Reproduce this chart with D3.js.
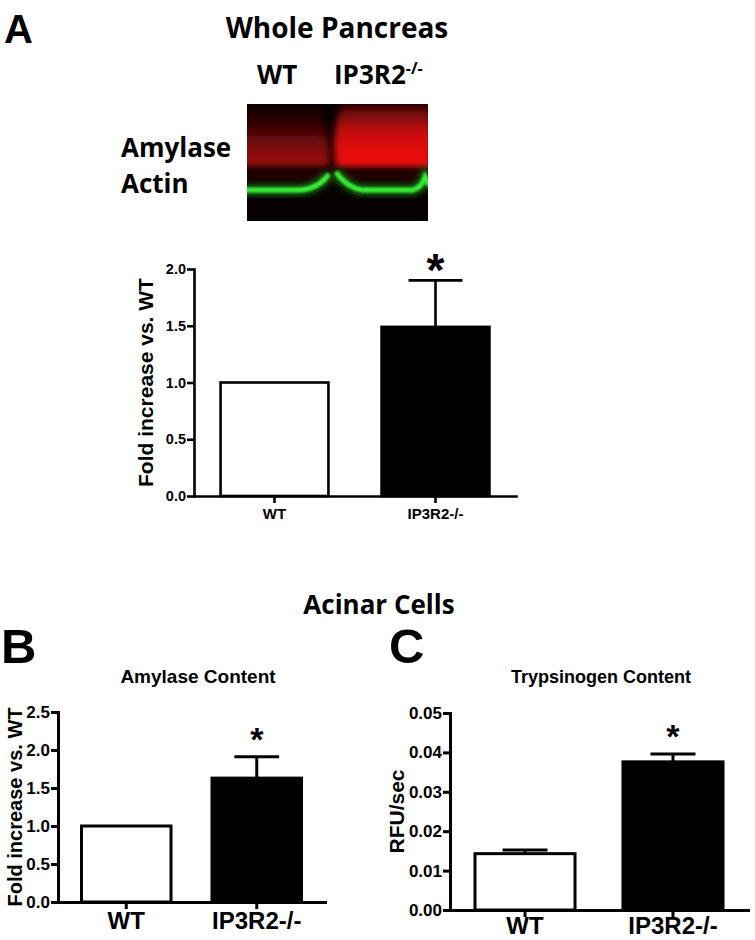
<!DOCTYPE html>
<html>
<head>
<meta charset="utf-8">
<script src="https://cdn.jsdelivr.net/npm/d3@7"></script>
<style>
  body { margin: 0; background: #fff; }
  text { font-family: "Liberation Sans", Arimo, Arial, sans-serif; font-weight: bold; fill: #000; }
  text.ppt { font-family: "Open Sans", Lato, sans-serif; font-weight: bold; }
</style>
</head>
<body>
<div id="fig"></div>
<script>
// groups shared by all three panels
const groups = ["WT", "IP3R2-/-"];

// A: whole pancreas western blot quantification
const wholeMean = [1.0, 1.49];
const wholeSem = [0, 0.41];
const wholeTicks = [0, 0.5, 1.0, 1.5, 2.0];

// B: acinar cells amylase content
const amyMean = [1.0, 1.63];
const amySem = [0, 0.28];
const amyTicks = [0, 0.5, 1.0, 1.5, 2.0, 2.5];

// C: acinar cells trypsinogen content (RFU/sec)
const trypMean = [0.0143, 0.0376];
const trypSem = [0.0009, 0.0020];
const trypTicks = [0, 0.01, 0.02, 0.03, 0.04, 0.05];

// relative band intensities on the blot (amylase, red)
const amylaseBand = [0.72, 1.0];

const width = 755, height = 940;
const svg = d3.select("#fig").append("svg")
    .attr("width", width)
    .attr("height", height);

// ---------- headings ----------
svg.append("text").attr("x", 4).attr("y", 43).style("font-size", "40px").text("A");
svg.append("text").attr("class", "ppt").attr("x", 337).attr("y", 38)
    .attr("text-anchor", "middle").style("font-size", "28px").text("Whole Pancreas");
svg.append("text").attr("class", "ppt").attr("x", 257).attr("y", 84)
    .style("font-size", "26px").text("WT");
let ko = svg.append("text").attr("class", "ppt").attr("x", 334).attr("y", 84)
    .style("font-size", "26px");
ko.append("tspan").text("IP3R2");
ko.append("tspan").attr("dy", -10).style("font-size", "16px").text("-/-");
svg.append("text").attr("class", "ppt").attr("x", 121).attr("y", 157)
    .style("font-size", "26px").text("Amylase");
svg.append("text").attr("class", "ppt").attr("x", 121).attr("y", 193)
    .style("font-size", "26px").text("Actin");

svg.append("text").attr("class", "ppt").attr("x", 379).attr("y", 614)
    .attr("text-anchor", "middle").style("font-size", "26px").text("Acinar Cells");
svg.append("text").attr("x", 1).attr("y", 663).style("font-size", "49px").text("B");
svg.append("text").attr("x", 389).attr("y", 663).style("font-size", "49px").text("C");

// ---------- blot ----------
const defs = svg.append("defs");
defs.append("filter").attr("id", "blur3").attr("x", "-20%").attr("y", "-50%")
    .attr("width", "140%").attr("height", "200%")
  .append("feGaussianBlur").attr("stdDeviation", 3.5);
defs.append("filter").attr("id", "blur1").attr("x", "-10%").attr("y", "-50%")
    .attr("width", "120%").attr("height", "200%")
  .append("feGaussianBlur").attr("stdDeviation", 1.2);
defs.append("clipPath").attr("id", "blotClip")
  .append("rect").attr("x", 247).attr("y", 104).attr("width", 181).attr("height", 117);

const blot = svg.append("g").attr("clip-path", "url(#blotClip)");
blot.append("rect").attr("x", 247).attr("y", 104).attr("width", 181).attr("height", 117)
    .attr("fill", "#080101");

const lanes = [
  {d: "M240,106 L318,106 Q328,130 329,150 L329,167 L240,167 Z"},
  {d: "M342,104 L432,104 L432,168 L336,168 L334,150 Q334,122 342,104 Z"}
];
lanes.forEach((ln, i) => {
  const k = amylaseBand[i];
  const g = defs.append("linearGradient").attr("id", "red" + i)
      .attr("x1", 0).attr("x2", 0).attr("y1", 0).attr("y2", 1);
  const stops = i === 0
    ? [[0, 20], [0.3, 70], [0.55, 140], [0.8, 200], [1, 215]]
    : [[0, 50], [0.2, 130], [0.45, 200], [0.75, 230], [1, 235]];
  stops.forEach(s => g.append("stop").attr("offset", s[0])
      .attr("stop-color", d3.rgb(s[1] * k, s[1] * 0.07 * k, s[1] * 0.06)));
  blot.append("path").attr("d", ln.d)
      .attr("fill", "url(#red" + i + ")").attr("filter", "url(#blur3)");
});
// faint red haze between bands
blot.append("rect").attr("x", 247).attr("y", 170).attr("width", 181).attr("height", 12)
    .attr("fill", "#240303").attr("filter", "url(#blur3)");

// actin (green)
const actin = [
  "M240,190 L300,190 Q318,189 329,174",
  "M336,172 Q346,187 362,190 L412,190 Q421,189 425,177 L430,186"
];
actin.forEach(dp => {
  blot.append("path").attr("d", dp).attr("fill", "none")
      .attr("stroke", "#168016").attr("stroke-width", 9).attr("filter", "url(#blur3)");
  blot.append("path").attr("d", dp).attr("fill", "none")
      .attr("stroke", "#38ee38").attr("stroke-width", 4.8).attr("filter", "url(#blur1)");
});

// ---------- bar panels ----------
function panel(o) {
  const x = d3.scaleBand().domain(groups).range([o.left, o.right])
      .paddingInner(o.pi).paddingOuter(o.po);
  const y = d3.scaleLinear().domain([0, o.ticks[o.ticks.length - 1]]).range([o.bottom, o.top]);
  const g = svg.append("g");

  const bw = x.bandwidth();
  // error bars (upper only)
  groups.forEach((grp, i) => {
    if (o.sem[i] <= 0) return;
    const cx = x(grp) + bw / 2;
    g.append("line").attr("x1", cx).attr("x2", cx)
        .attr("y1", y(o.mean[i])).attr("y2", y(o.mean[i] + o.sem[i]))
        .attr("stroke", "#000").attr("stroke-width", o.sw);
    g.append("line").attr("x1", cx - bw * o.cap / 2).attr("x2", cx + bw * o.cap / 2)
        .attr("y1", y(o.mean[i] + o.sem[i])).attr("y2", y(o.mean[i] + o.sem[i]))
        .attr("stroke", "#000").attr("stroke-width", o.sw);
  });

  g.selectAll("rect.bar").data(groups).join("rect").attr("class", "bar")
      .attr("x", d => x(d))
      .attr("y", (d, i) => y(o.mean[i]))
      .attr("width", bw)
      .attr("height", (d, i) => y(0) - y(o.mean[i]))
      .attr("fill", (d, i) => i === 0 ? "#fff" : "#000")
      .attr("stroke", "#000").attr("stroke-width", o.sw);

  const ya = g.append("g").attr("transform", `translate(${o.left},0)`)
      .call(d3.axisLeft(y).tickValues(o.ticks).tickFormat(d3.format(o.fmt))
        .tickSize(7).tickSizeOuter(0).tickPadding(1));
  ya.selectAll("path, line").attr("stroke", "#000").attr("stroke-width", o.sw);
  ya.selectAll("text").style("font-size", o.tickFont + "px").attr("font-family", null);

  const xa = g.append("g").attr("transform", `translate(0,${o.bottom})`)
      .call(d3.axisBottom(x).tickSize(7).tickSizeOuter(0).tickPadding(o.xPad));
  xa.selectAll("path, line").attr("stroke", "#000").attr("stroke-width", o.sw);
  xa.selectAll("text").style("font-size", o.xFont + "px").attr("font-family", null);
  svg.selectAll(".domain").attr("stroke-linecap", "square");

  // y title
  g.append("text")
      .attr("transform", `translate(${o.titleX},${(o.top + o.bottom) / 2}) rotate(-90)`)
      .attr("text-anchor", "middle").attr("dy", "0.35em")
      .style("font-size", o.yFont + "px").text(o.yTitle);

  if (o.heading) {
    g.append("text").attr("x", o.headX).attr("y", o.headY).attr("text-anchor", "middle")
        .style("font-size", o.headFont + "px").text(o.heading);
  }

  // significance star over the knockout bar
  const kx = x(groups[1]) + bw / 2;
  g.append("text").attr("x", kx).attr("y", y(o.mean[1] + o.sem[1]) + o.starDy)
      .attr("text-anchor", "middle").style("font-size", o.starFont + "px").text("*");
}

panel({
  mean: wholeMean, sem: wholeSem, ticks: wholeTicks, fmt: ".1f",
  left: 194, right: 516, top: 269, bottom: 496, pi: 0.33, po: 0.165,
  sw: 2.6, cap: 0.5, tickFont: 14.5, xFont: 15, xPad: 5,
  yTitle: "Fold increase vs. WT", titleX: 146, yFont: 21,
  starFont: 46, starDy: 6
});

panel({
  mean: amyMean, sem: amySem, ticks: amyTicks, fmt: ".1f",
  left: 58, right: 325, top: 712, bottom: 902, pi: 0.314, po: 0.18,
  sw: 3, cap: 0.5, tickFont: 17, xFont: 24, xPad: 3,
  yTitle: "Fold increase vs. WT", titleX: 15, yFont: 20,
  heading: "Amylase Content", headX: 198, headY: 683, headFont: 19,
  starFont: 34, starDy: -6
});

panel({
  mean: trypMean, sem: trypSem, ticks: trypTicks, fmt: ".2f",
  left: 450, right: 748, top: 713, bottom: 910, pi: 0.324, po: 0.169,
  sw: 3, cap: 0.45, tickFont: 17, xFont: 24, xPad: 0,
  yTitle: "RFU/sec", titleX: 397, yFont: 21,
  heading: "Trypsinogen Content", headX: 601, headY: 683, headFont: 18,
  starFont: 34, starDy: -6
});
</script>
</body>
</html>
